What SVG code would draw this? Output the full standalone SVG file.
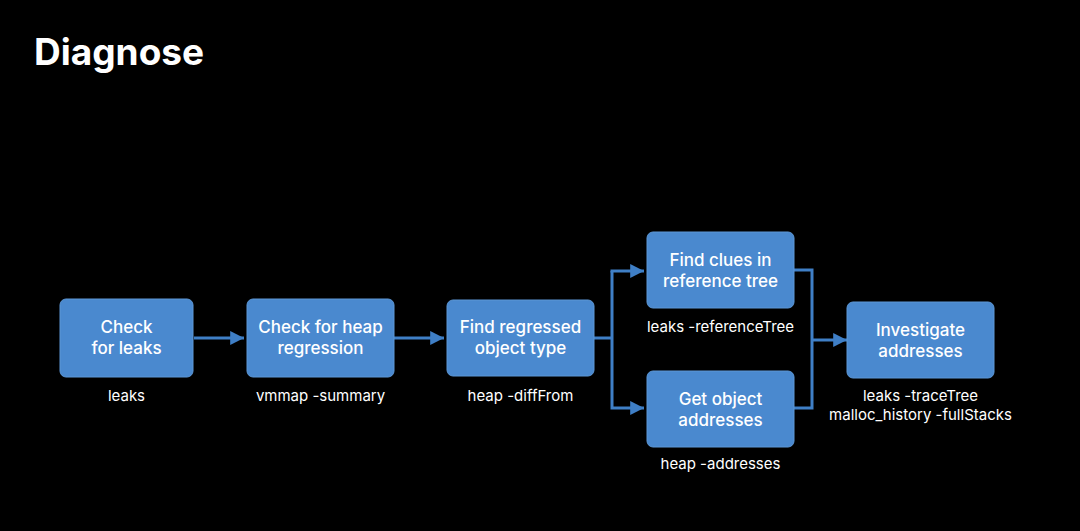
<svg xmlns="http://www.w3.org/2000/svg" width="1080" height="531" viewBox="0 0 1080 531">
<defs>
<style>
.box{fill:#4a89cf;stroke:#5c97d6;stroke-width:1}
.bt{font-family:Inter,"Liberation Sans",sans-serif;font-weight:500;font-size:17px;fill:#ffffff;text-anchor:middle}
.lb{font-family:Inter,"Liberation Sans",sans-serif;font-size:15px;fill:#ffffff;text-anchor:middle}
.ln{fill:none;stroke:#3f7fc6;stroke-width:3}
</style>
<marker id="ah" viewBox="0 0 10 10" refX="10" refY="5" markerWidth="4.6" markerHeight="4.6" markerUnits="strokeWidth" orient="auto">
<path d="M0,0 L10,5 L0,10 Z" fill="#3f7fc6"/>
</marker>
</defs>
<rect width="1080" height="531" fill="#000000"/>
<text x="34" y="65" font-family="Inter,'Liberation Sans',sans-serif" font-weight="700" font-size="37" fill="#ffffff">Diagnose</text>
<g id="connectors">
<line class="ln" x1="194" y1="338" x2="244" y2="338" marker-end="url(#ah)"/>
<line class="ln" x1="394" y1="338" x2="444" y2="338" marker-end="url(#ah)"/>
<polyline class="ln" points="594,338 612,338"/>
<polyline class="ln" points="612,271 612,408 644,408" marker-end="url(#ah)"/>
<line class="ln" x1="610.5" y1="271" x2="644" y2="271" marker-end="url(#ah)"/>
<polyline class="ln" points="794,270 812,270 812,408 794,408"/>
<line class="ln" x1="812" y1="340" x2="847" y2="340" marker-end="url(#ah)"/>
</g>
<g id="n1">
<rect class="box" x="60" y="299" width="133" height="78" rx="6"/>
<text class="bt" x="126.5" y="333">Check</text>
<text class="bt" x="126.5" y="354">for leaks</text>
<text class="lb" x="126.5" y="401">leaks</text>
</g>
<g id="n2">
<rect class="box" x="247" y="299" width="147" height="78" rx="6"/>
<text class="bt" x="320.5" y="333">Check for heap</text>
<text class="bt" x="320.5" y="354">regression</text>
<text class="lb" x="320.5" y="401">vmmap -summary</text>
</g>
<g id="n3">
<rect class="box" x="447" y="300" width="147" height="76" rx="6"/>
<text class="bt" x="520.5" y="333">Find regressed</text>
<text class="bt" x="520.5" y="354">object type</text>
<text class="lb" x="520.5" y="401">heap -diffFrom</text>
</g>
<g id="n4">
<rect class="box" x="647" y="232" width="147" height="76" rx="6"/>
<text class="bt" x="720.5" y="266">Find clues in</text>
<text class="bt" x="720.5" y="287">reference tree</text>
<text class="lb" x="720.5" y="332">leaks -referenceTree</text>
</g>
<g id="n5">
<rect class="box" x="647" y="371" width="147" height="76" rx="6"/>
<text class="bt" x="720.5" y="405">Get object</text>
<text class="bt" x="720.5" y="426">addresses</text>
<text class="lb" x="720.5" y="469">heap -addresses</text>
</g>
<g id="n6">
<rect class="box" x="847" y="302" width="147" height="76" rx="6"/>
<text class="bt" x="920.5" y="336">Investigate</text>
<text class="bt" x="920.5" y="357">addresses</text>
<text class="lb" x="920.5" y="401">leaks -traceTree</text>
<text class="lb" x="920.5" y="420">malloc_history -fullStacks</text>
</g>
</svg>
